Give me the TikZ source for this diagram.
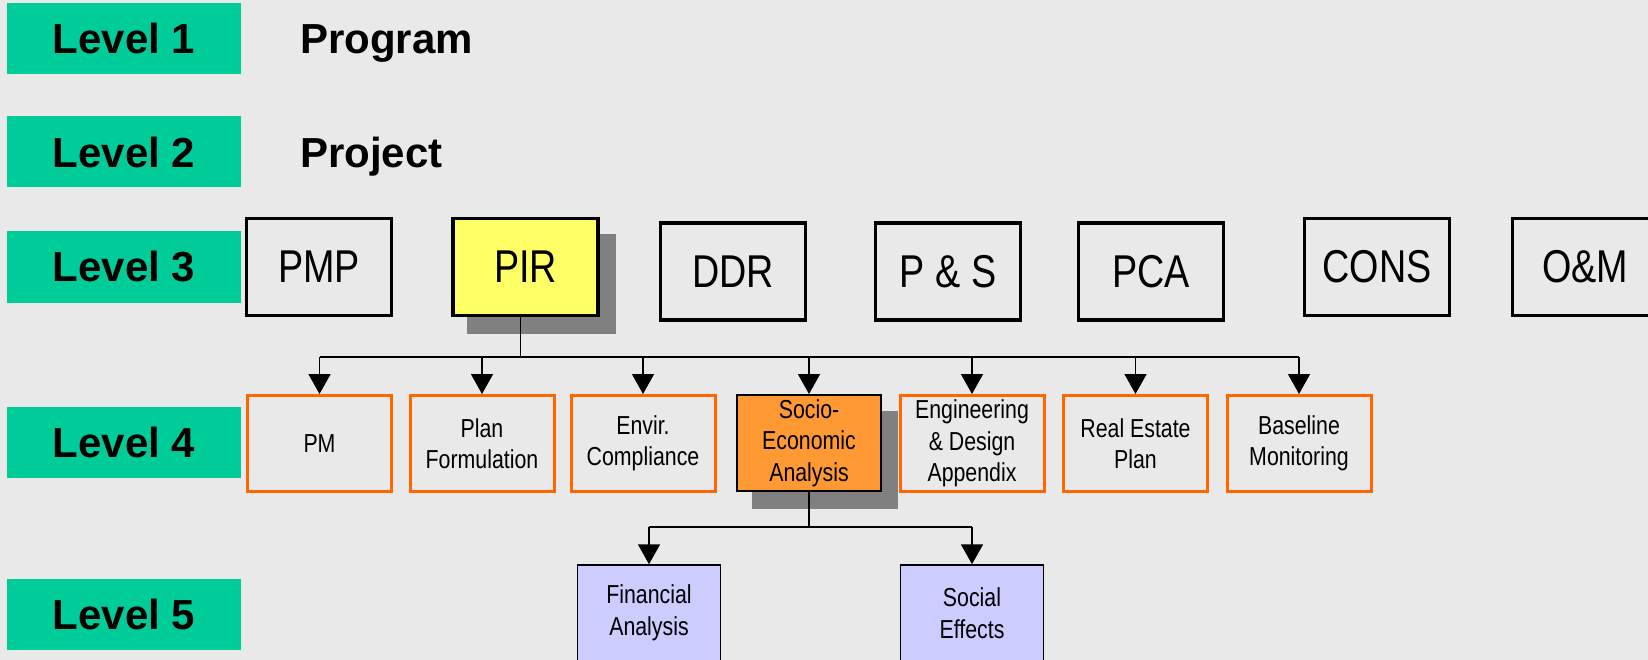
\documentclass[tikz,border=0pt]{standalone}
\usepackage{fontspec}
\setmainfont{Liberation Sans}
\newfontfamily\narrowsf[FakeStretch=0.82]{Liberation Sans}
\usepackage{tikz}
\usetikzlibrary{calc}
\usetikzlibrary{arrows.meta}
\usetikzlibrary{backgrounds}
\definecolor{bggray}{RGB}{233,233,233}
\definecolor{levgreen}{RGB}{0,204,153}
\definecolor{pirfill}{RGB}{255,255,102}
\definecolor{wbsorange}{RGB}{255,102,0}
\definecolor{socfill}{RGB}{255,153,51}
\definecolor{lowfill}{RGB}{204,204,255}
\definecolor{shadowgray}{RGB}{128,128,128}
\tikzset{
 levbox/.style={fill=levgreen, minimum width=234, minimum height=71, inner sep=0,
   font=\fontsize{42}{50}\selectfont\bfseries},
 headtxt/.style={anchor=base west, inner sep=0, font=\fontsize{42}{50}\selectfont\bfseries},
 topbox/.style={draw=black, line width=3.5pt, minimum width=145, minimum height=97,
   inner sep=0, font=\narrowsf\fontsize{46}{54}\selectfont},
 wpbox/.style={draw=wbsorange, line width=3pt, minimum width=144, minimum height=96,
   inner sep=0, align=center, font=\narrowsf\fontsize{26}{31.5}\selectfont},
 subbox/.style={draw=black, fill=lowfill, line width=1.5pt, minimum width=143, minimum height=96,
   inner sep=0, align=center, font=\narrowsf\fontsize{26}{31.5}\selectfont},
 conn/.style={line width=1.6pt},
 arr/.style={line width=1.6pt, -{Triangle[width=22pt,length=20pt]}}
}
\begin{document}
\begin{tikzpicture}[x=1pt,y=-1pt]
\useasboundingbox (0,0) rectangle (1648,660);
\clip (0,0) rectangle (1648,660);
\foreach \n/\y in {1/38.5,2/152,3/267,4/442,5/614} {
 \node[levbox] (lev\n) at (124,\y) {Level \n};
}
\node[headtxt] (program) at (300,54) {Program};
\node[headtxt] (project) at (300,167.5) {Project};
% level 3
\node[topbox] (pmp) at (319,267) {PMP};
\node[topbox, fill=pirfill] (pir) at (525.5,267) {PIR};
\node[topbox] (ddr) at (733,271.5) {DDR};
\node[topbox] (ps) at (948,271.5) {P \& S};
\node[topbox] (pca) at (1151,271.5) {PCA};
\node[topbox] (cons) at (1377,267) {CONS};
\node[topbox] (om) at (1585,267) {O\&M};
% level 4
\node[wpbox] (pm) at (319.5,443.5) {PM};
\node[wpbox] (plan) at (482,443.5) {Plan\\Formulation};
\node[wpbox] (envir) at (643,443.5) {Envir.\\Compliance};
\node[wpbox, draw=black, line width=2pt, fill=socfill] (socio) at (809,443) {Socio-\\Economic\\Analysis};
\node[wpbox] (eng) at (972,443.5) {Engineering\\\& Design\\Appendix};
\node[wpbox] (estate) at (1135.5,443.5) {Real Estate\\Plan};
\node[wpbox] (base) at (1299,443.5) {Baseline\\Monitoring};
% level 5
\node[subbox] (fin) at (649,613) {Financial\\Analysis};
\node[subbox] (soc) at (972,613) {Social\\Effects};
\begin{scope}[on background layer]
 \fill[bggray] (0,0) rectangle (1648,660);
 \foreach \b in {pir,socio} {
  \fill[shadowgray] ($(\b.north west)+(16,17)$) rectangle ($(\b.south east)+(16,17)$);
 }
\end{scope}
\coordinate (bus) at (0,357);
\coordinate (subbus) at (0,527);
\draw[conn] ($(pir.south)+(-5,0)$) -- ($(pir.south |- bus)+(-5,0)$);
\draw[conn] (pm.north |- bus) -- (base.north |- bus);
\foreach \n in {pm,plan,envir,socio,eng,estate,base} {
 \draw[arr] (\n.north |- bus) -- (\n.north);
}
\draw[conn] (socio.south) -- (socio.south |- subbus);
\draw[conn] (fin.north |- subbus) -- (soc.north |- subbus);
\foreach \n in {fin,soc} {
 \draw[arr] (\n.north |- subbus) -- (\n.north);
}
\end{tikzpicture}
\end{document}
